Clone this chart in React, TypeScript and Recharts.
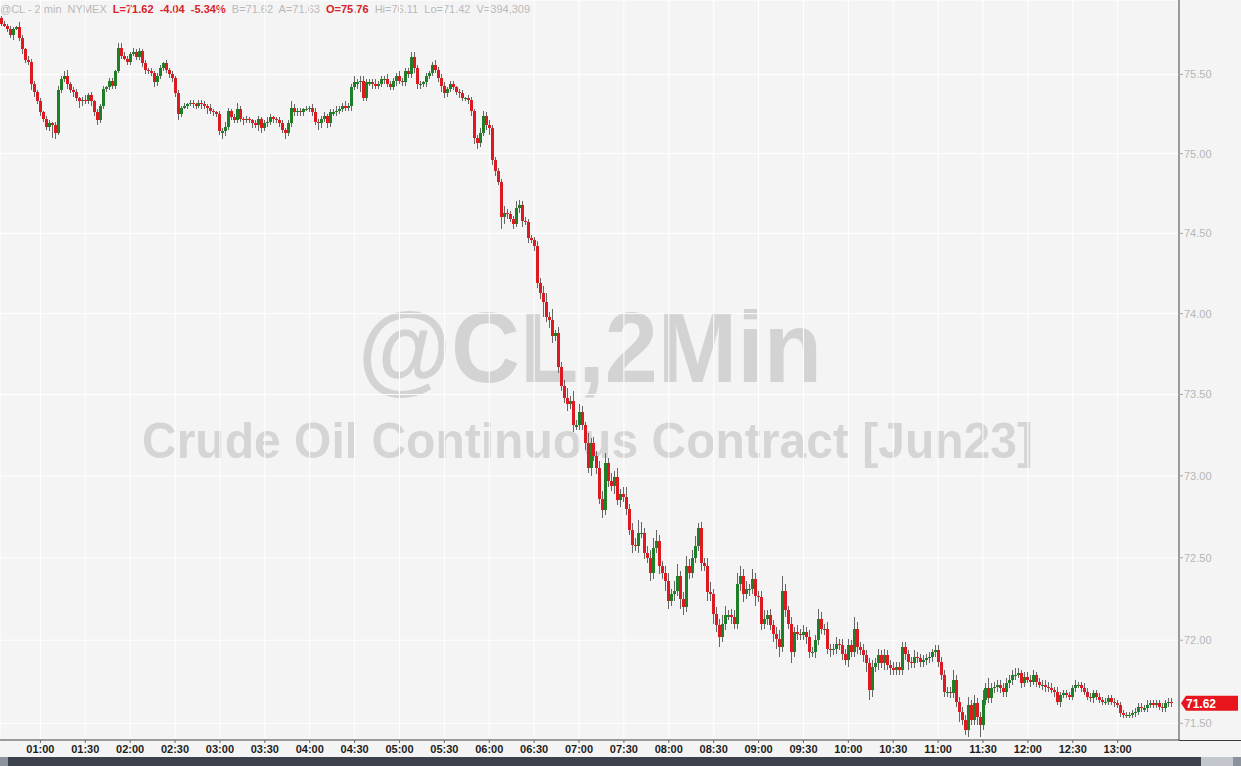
import React from "react";
import { BarChart, Bar, XAxis, YAxis, CartesianGrid, ReferenceLine } from "recharts";

const FONT = '"Liberation Sans", Arial, Helvetica, sans-serif';
const START_MIN = 34; // first bar at 00:34
const STEP_MIN = 2;
const EMPTY_SLOTS = 2;
const FIRST_OPEN = 75.86;
const LAST_PRICE = 71.62;
const Y_DOMAIN: [number, number] = [71.4, 75.973];

const closes = [
  75.82,75.81,75.79,75.75,75.79,75.80,75.73,75.66,75.59,75.58,
  75.44,75.39,75.33,75.26,75.22,75.17,75.19,75.18,75.13,75.40,
  75.47,75.49,75.44,75.40,75.39,75.35,75.33,75.34,75.33,75.37,
  75.33,75.26,75.21,75.30,75.41,75.42,75.46,75.43,75.52,75.67,
  75.62,75.60,75.58,75.63,75.64,75.61,75.65,75.57,75.53,75.52,
  75.51,75.45,75.49,75.54,75.57,75.53,75.50,75.48,75.38,75.25,
  75.29,75.30,75.31,75.32,75.31,75.30,75.32,75.31,75.30,75.29,
  75.27,75.26,75.25,75.14,75.14,75.17,75.27,75.23,75.21,75.28,
  75.22,75.21,75.22,75.21,75.19,75.18,75.22,75.16,75.19,75.20,
  75.23,75.22,75.21,75.19,75.15,75.13,75.19,75.29,75.26,75.27,
  75.26,75.28,75.28,75.29,75.26,75.20,75.19,75.22,75.24,75.19,
  75.26,75.26,75.27,75.28,75.30,75.29,75.30,75.42,75.45,75.45,
  75.46,75.35,75.45,75.45,75.44,75.43,75.44,75.47,75.47,75.44,
  75.42,75.46,75.49,75.46,75.45,75.52,75.50,75.61,75.54,75.44,
  75.44,75.45,75.49,75.51,75.56,75.53,75.48,75.43,75.38,75.41,
  75.44,75.42,75.39,75.38,75.35,75.35,75.34,75.27,75.10,75.07,
  75.13,75.24,75.18,75.16,74.96,74.89,74.82,74.60,74.63,74.62,
  74.59,74.56,74.66,74.68,74.58,74.57,74.47,74.46,74.42,74.19,
  74.13,74.07,73.98,73.96,73.86,73.88,73.67,73.55,73.48,73.44,
  73.46,73.31,73.31,73.39,73.31,73.20,73.05,73.20,73.12,73.05,
  72.86,72.79,73.08,72.97,72.94,72.99,72.85,72.89,72.87,72.80,
  72.67,72.58,72.57,72.65,72.65,72.53,72.50,72.41,72.56,72.60,
  72.45,72.41,72.36,72.24,72.28,72.30,72.39,72.25,72.20,72.45,
  72.41,72.50,72.57,72.68,72.47,72.45,72.29,72.28,72.16,72.09,
  72.02,72.10,72.15,72.15,72.14,72.10,72.34,72.39,72.28,72.31,
  72.31,72.37,72.27,72.26,72.10,72.13,72.15,72.09,72.04,72.01,
  71.96,72.30,72.18,72.10,71.93,72.05,72.04,72.03,72.05,72.02,
  71.93,71.93,72.00,72.13,72.07,72.07,71.95,71.94,71.95,71.98,
  71.97,71.92,71.88,71.97,71.93,72.07,71.96,71.94,71.91,71.86,
  71.70,71.84,71.86,71.91,71.86,71.91,71.85,71.83,71.82,71.84,
  71.82,71.96,71.92,71.87,71.86,71.90,71.89,71.87,71.88,71.89,
  71.90,71.93,71.94,71.87,71.79,71.69,71.69,71.68,71.76,71.63,
  71.57,71.52,71.46,71.61,71.52,71.62,71.54,71.49,71.64,71.71,
  71.65,71.71,71.72,71.73,71.71,71.69,71.74,71.76,71.79,71.79,
  71.80,71.74,71.78,71.76,71.75,71.79,71.75,71.73,71.73,71.72,
  71.71,71.70,71.69,71.63,71.67,71.68,71.67,71.66,71.71,71.73,
  71.73,71.71,71.69,71.66,71.65,71.68,71.66,71.64,71.63,71.63,
  71.65,71.63,71.62,71.61,71.56,71.55,71.55,71.55,71.56,71.57,
  71.60,71.59,71.59,71.61,71.62,71.61,71.62,71.60,71.59,71.62,
  71.63,71.62,
];

// wick lengths above / below the body, in cents
const upperWicks = [
  1,2,1,2,1,1,3,2,1,3, 2,2,1,2,1,2,2,1,2,3, 2,3,4,1,2,2,1,2,3,1, 2,1,2,1,2,1,2,2,1,3,
  3,2,2,1,3,2,2,1,2,1, 2,1,2,2,1,2,1,2,1,2, 1,2,1,2,2,1,2,2,2,1, 2,1,1,2,2,3,2,1,2,4,
  2,1,2,1,1,2,2,1,2,3, 2,1,1,2,2,1,2,4,2,2, 2,1,2,1,2,3,2,2,2,1, 2,2,3,2,2,3,2,2,4,2,
  3,3,2,2,2,3,2,2,2,3, 2,2,2,3,2,2,2,3,3,2, 2,1,2,1,2,3,2,2,2,1, 2,2,1,2,2,1,2,2,1,2,
  3,3,2,3,2,2,2,2,4,2, 2,2,4,3,2,2,2,2,2,3, 3,4,6,3,7,2,4,3,4,6, 3,6,3,5,4,2,6,3,4,3,
  4,5,6,3,5,4,6,3,4,6, 3,4,4,8,7,3,4,5,6,7, 4,3,4,5,3,6,7,3,4,6, 4,5,6,3,4,3,5,6,3,4,
  4,5,6,3,4,4,7,6,4,5, 3,6,4,3,4,5,3,4,3,4, 5,9,4,3,4,3,4,3,4,3, 4,3,3,6,4,3,4,3,3,4,
  3,4,3,4,3,7,4,3,4,3, 3,4,3,4,3,4,3,3,4,3, 3,3,3,2,3,4,3,3,3,3, 3,2,3,3,3,3,3,3,6,3,
  3,3,3,5,3,5,3,3,6,3, 6,3,3,3,3,3,3,3,3,4, 3,2,3,3,3,3,2,2,3,3, 3,3,2,3,2,2,2,2,2,3,
  2,2,3,2,2,2,2,2,2,2, 2,2,2,2,2,2,2,2,2,2, 2,2,2,3,2,2,2,2,2,2, 2,2,
];

const lowerWicks = [
  1,1,2,2,3,1,2,3,2,2, 4,3,2,2,2,2,3,8,4,1, 2,2,3,2,3,2,4,3,2,2, 3,2,3,2,2,2,2,2,2,1,
  2,1,2,2,1,2,2,2,3,2, 2,3,2,2,2,2,2,3,2,4, 2,1,2,1,2,2,1,3,2,4, 2,2,2,2,5,3,2,2,2,2,
  2,3,2,2,3,2,4,3,2,2, 2,3,2,2,2,4,2,2,2,2, 2,2,1,2,2,2,4,3,2,3, 2,2,2,2,2,2,2,3,2,4,
  6,2,2,2,3,2,2,2,3,2, 2,2,3,2,2,2,2,2,3,3, 3,2,3,2,2,2,3,4,3,2, 2,2,2,3,2,2,3,3,4,4,
  3,2,3,4,3,3,2,7,4,3, 2,3,2,3,4,2,3,2,3,3, 4,9,3,5,4,3,4,3,3,4, 3,4,3,3,3,4,3,5,3,4,
  3,5,3,4,3,5,3,4,3,4, 3,5,3,4,3,4,3,5,4,3, 5,4,6,5,3,4,3,6,5,3, 4,3,3,3,5,3,5,4,6,4,
  6,3,4,3,4,3,3,4,5,3, 4,3,6,3,4,3,4,3,5,6, 6,3,4,3,7,3,4,3,3,4, 4,3,4,3,3,4,3,4,3,3,
  3,4,3,4,3,3,4,3,4,5, 6,4,3,4,3,4,3,4,3,3, 3,3,4,5,3,3,3,3,3,3, 3,3,3,3,3,3,3,3,3,3,
  6,3,3,4,3,3,5,7,3,3, 3,3,3,3,3,3,3,3,3,3, 2,3,2,2,3,2,3,2,3,3, 2,2,3,2,3,2,2,2,2,2,
  2,2,2,2,2,3,2,2,2,2, 2,2,2,2,2,2,2,2,2,2, 2,2,2,2,2,2,2,2,2,2, 2,2,
];

const xTickLabels = [
  "01:00","01:30","02:00","02:30","03:00","03:30","04:00","04:30","05:00",
  "05:30","06:00","06:30","07:00","07:30","08:00","08:30","09:00","09:30",
  "10:00","10:30","11:00","11:30","12:00","12:30","13:00",
];
const yTickValues = [71.5, 72, 72.5, 73, 73.5, 74, 74.5, 75, 75.5];

const headerParts = [
  { text: "@CL - 2 min", red: false },
  { text: "NYMEX", red: false },
  { text: "L=71.62", red: true },
  { text: "-4.04", red: true },
  { text: "-5.34%", red: true },
  { text: "B=71.62", red: false },
  { text: "A=71.63", red: false },
  { text: "O=75.76", red: true },
  { text: "Hi=76.11", red: false },
  { text: "Lo=71.42", red: false },
  { text: "V=394,309", red: false },
];

const RED = "#dd1a20";
const GREEN = "#1f7f26";
const WICK = "#666666";

function fmtTime(m: number) {
  const h = Math.floor(m / 60);
  const mm = m % 60;
  return `${String(h).padStart(2, "0")}:${String(mm).padStart(2, "0")}`;
}

const data: any[] = [];
const n = Math.min(closes.length, upperWicks.length, lowerWicks.length);
for (let i = 0; i < n; i++) {
  const open = i === 0 ? FIRST_OPEN : closes[i - 1];
  const close = closes[i];
  const high = +(Math.max(open, close) + upperWicks[i] / 100).toFixed(2);
  const low = +(Math.min(open, close) - lowerWicks[i] / 100).toFixed(2);
  data.push({ t: fmtTime(START_MIN + i * STEP_MIN), open, close, high, low, range: [low, high] });
}
for (let k = 0; k < EMPTY_SLOTS; k++) {
  data.push({ t: fmtTime(START_MIN + (n + k) * STEP_MIN), range: null });
}

function Candle(props: any) {
  const { x, y, width, height, payload } = props;
  if (!payload || payload.open == null || x == null || y == null || isNaN(y)) return null;
  const top = Math.min(y, y + height);
  const h = Math.abs(height);
  const lh = Math.log(payload.high);
  const ll = Math.log(payload.low);
  const span = lh - ll;
  const py = (v: number) => (span > 0 ? top + (h * (lh - Math.log(v))) / span : top);
  const up = payload.close >= payload.open;
  const color = up ? GREEN : RED;
  const bx = Math.round(x + width / 2 - 1.5);
  const yo = py(payload.open);
  const yc = py(payload.close);
  const bt = Math.min(yo, yc);
  let bb = Math.max(yo, yc);
  if (bb - bt < 1.2) bb = bt + 1.2;
  return (
    <g shapeRendering="crispEdges">
      <rect x={bx + 1} y={top} width={1} height={Math.max(h, 1)} fill={WICK} />
      <rect x={bx} y={bt} width={3} height={bb - bt} fill={color} />
    </g>
  );
}

function PriceTag(props: any) {
  const vb = props.viewBox || {};
  const yy = vb.y;
  const x0 = (vb.x || 0) + (vb.width || 0) + 2;
  if (yy == null) return null;
  const d = `M${x0},${yy} L${x0 + 5},${yy - 7.5} L${x0 + 57},${yy - 7.5} L${x0 + 57},${yy + 7.5} L${x0 + 5},${yy + 7.5} Z`;
  return (
    <g>
      <path d={d} fill="#e8161c" />
      <text x={x0 + 5} y={yy + 4.5} fill="#ffffff" fontSize={12} fontWeight="bold" fontFamily={FONT}>
        {LAST_PRICE.toFixed(2)}
      </text>
    </g>
  );
}

export default function App() {
  return (
    <div
      style={{
        position: "absolute",
        left: 0,
        top: 0,
        width: 1241,
        height: 766,
        background: "#f4f4f4",
        overflow: "hidden",
        fontFamily: FONT,
      }}
    >
      <svg width={1241} height={766} style={{ position: "absolute", left: 0, top: 0 }}>
        <text
          x={358}
          y={382}
          fontSize={100}
          fontWeight="bold"
          fill="#d3d3d3"
          fontFamily={FONT}
          textLength={464}
          lengthAdjust="spacingAndGlyphs"
        >
          @CL,2Min
        </text>
        <text
          x={142}
          y={458}
          fontSize={50}
          fontWeight="bold"
          fill="#d5d5d5"
          fontFamily={FONT}
          textLength={891}
          lengthAdjust="spacingAndGlyphs"
        >
          Crude Oil Continuous Contract [Jun23]
        </text>
        <text x={0} y={13} fontSize={11} fontFamily={FONT} style={{ whiteSpace: "pre" }}>
          {headerParts.map((p, i) => (
            <tspan
              key={p.text}
              fill={p.red ? "#d8232a" : "#b9b9b9"}
              fontWeight={p.red ? "bold" : "normal"}
            >
              {(i > 0 ? "  " : "") + p.text}
            </tspan>
          ))}
        </text>
      </svg>
      <div style={{ position: "absolute", left: 0, top: 0 }}>
        <BarChart
          width={1241}
          height={766}
          data={data}
          margin={{ top: 0, right: 0, bottom: 0, left: 0 }}
          barCategoryGap={0}
          barGap={0}
        >
          <CartesianGrid stroke="#ffffff" strokeWidth={1} />
          <XAxis
            dataKey="t"
            type="category"
            allowDuplicatedCategory={false}
            ticks={xTickLabels}
            interval={0}
            height={26}
            tickSize={3}
            tickMargin={2}
            axisLine={{ stroke: "#3a3a3a" }}
            tickLine={{ stroke: "#666" }}
            tick={{ fontSize: 11, fontWeight: "bold", fill: "#1d1d1d", fontFamily: FONT }}
          />
          <YAxis
            orientation="right"
            scale="log"
            domain={Y_DOMAIN}
            allowDataOverflow
            ticks={yTickValues}
            interval={0}
            width={62}
            tickSize={4}
            tickMargin={1}
            axisLine={{ stroke: "#3a3a3a" }}
            tickLine={{ stroke: "#a8a8a8" }}
            tick={{ fontSize: 11, fill: "#b6b6b6", fontFamily: FONT, textAnchor: "start" }}
            tickFormatter={(v: number) => v.toFixed(2)}
          />
          <Bar dataKey="range" isAnimationActive={false} shape={(p: any) => <Candle {...p} />} />
          <ReferenceLine
            y={LAST_PRICE}
            stroke="none"
            ifOverflow="visible"
            label={(p: any) => <PriceTag {...p} />}
          />
        </BarChart>
      </div>
      <div style={{ position: "absolute", left: 1179, top: 740, width: 62, height: 1, background: "#3a3a3a" }} />
      <div style={{ position: "absolute", left: 0, top: 757, width: 1241, height: 9, background: "#3d414b" }} />
      <div style={{ position: "absolute", left: 0, top: 757, width: 8, height: 9, background: "#8c929c" }} />
      <div style={{ position: "absolute", left: 1201, top: 757, width: 32, height: 9, background: "#c3c7cd" }} />
      <div style={{ position: "absolute", left: 1233, top: 757, width: 8, height: 9, background: "#8c929c" }} />
    </div>
  );
}
